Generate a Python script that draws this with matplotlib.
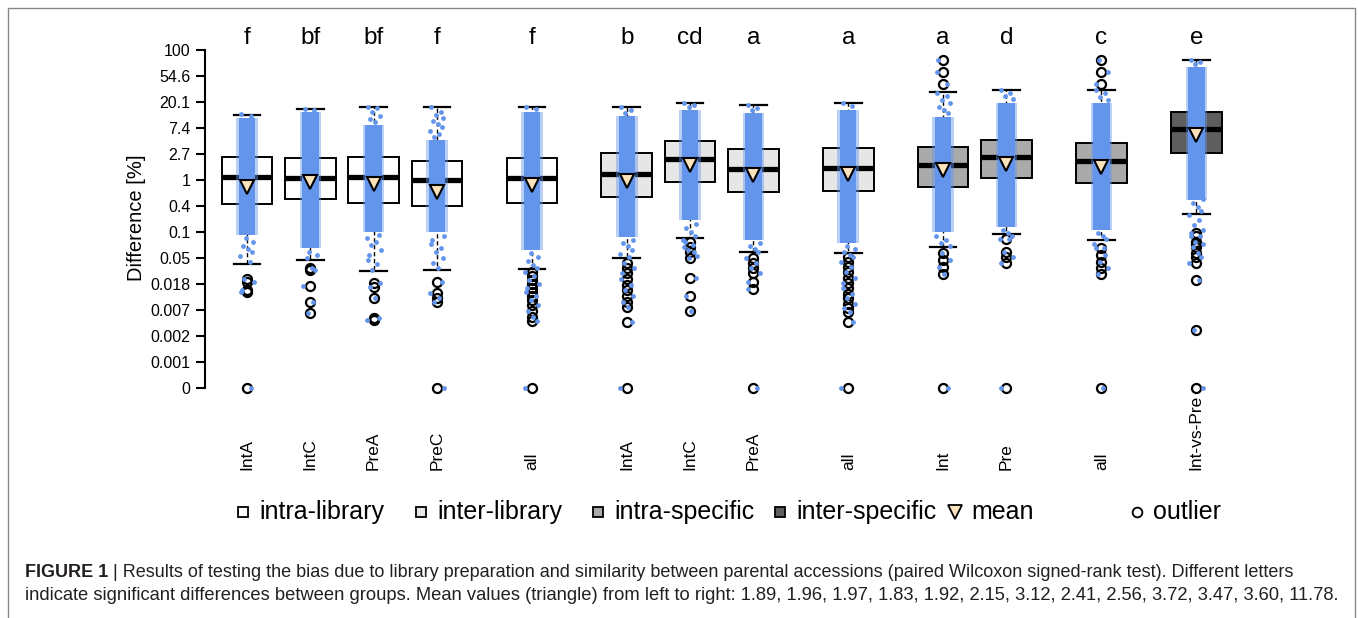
import numpy as np
import matplotlib.pyplot as plt
from matplotlib.lines import Line2D
from matplotlib import transforms

plt.rcParams['font.family'] = ['Liberation Sans', 'DejaVu Sans']

# ---------- DATA (percent difference) ----------
labels = ['IntA', 'IntC', 'PreA', 'PreC', 'all', 'IntA', 'IntC', 'PreA', 'all',
          'Int', 'Pre', 'all', 'Int-vs-Pre']
letters = ['f', 'bf', 'bf', 'f', 'f', 'b', 'cd', 'a', 'a', 'a', 'd', 'c', 'e']
kinds = ['intra-library'] * 5 + ['inter-library'] * 4 + ['intra-specific'] * 3 + ['inter-specific']

medians = [1.12, 1.07, 1.11, 1.0, 1.07, 1.245, 2.22, 1.53, 1.60, 1.78, 2.39, 2.08, 7.03]
q1 = [0.397, 0.476, 0.408, 0.372, 0.418, 0.526, 0.915, 0.638, 0.663, 0.755, 1.07, 0.901, 2.79]
q3 = [2.42, 2.30, 2.45, 2.08, 2.36, 2.86, 4.48, 3.26, 3.46, 3.60, 4.66, 4.20, 13.8]
whis_lo = [0.0395, 0.046, 0.030, 0.031, 0.0326, 0.0503, 0.109, 0.062, 0.0597, 0.077, 0.124, 0.0995, 0.267]
whis_hi = [12.2, 15.3, 16.4, 16.8, 16.8, 16.8, 19.1, 17.9, 19.1, 29.2, 31.9, 31.9, 100]
mean_marks = [0.764, 0.937, 0.857, 0.638, 0.825, 0.962, 1.78, 1.21, 1.26, 1.47, 1.83, 1.67, 5.64]
caption_means = [1.89, 1.96, 1.97, 1.83, 1.92, 2.15, 3.12, 2.41, 2.56, 3.72, 3.47, 3.60, 11.78]

outliers = [
    [0.022, 0.020, 0.0145, 0.0135, 0],
    [0.034, 0.031, 0.0172, 0.0092, 0.0061],
    [0.0188, 0.0163, 0.0106, 0.0049, 0.0045],
    [0.020, 0.0128, 0.0108, 0.0093, 0],
    [0.029, 0.025, 0.0214, 0.0183, 0.0157, 0.0134, 0.0115, 0.0099, 0.0082, 0.0065, 0.0051, 0.0044, 0],
    [0.0407, 0.034, 0.0276, 0.0222, 0.0176, 0.0145, 0.0115, 0.0093, 0.0077, 0.0042, 0],
    [0.093, 0.077, 0.0634, 0.049, 0.0233, 0.0115, 0.0065],
    [0.049, 0.0407, 0.0335, 0.0276, 0.020, 0.015, 0],
    [0.0518, 0.0427, 0.0352, 0.029, 0.0231, 0.019, 0.0157, 0.0125, 0.0107, 0.0085, 0.0073, 0.0062, 0.0042, 0],
    [100, 64.4, 40.2, 0.0597, 0.046, 0.0356, 0.0269, 0],
    [0.102, 0.0634, 0.051, 0.0407, 0],
    [100, 64.4, 40.2, 0.072, 0.0559, 0.0432, 0.0335, 0.0269, 0],
    [0.129, 0.117, 0.093, 0.084, 0.077, 0.0597, 0.051, 0.0407, 0.0214, 0.0031, 0],
]

# dense part of the point cloud (upper, lower) and scattered points outside it
cloud_hi = [10.8, 13.7, 8.3, 4.66, 13.7, 11.7, 14.8, 13.2, 14.8, 11.3, 19.3, 19.3, 77]
cloud_lo = [0.12, 0.073, 0.135, 0.135, 0.068, 0.111, 0.215, 0.099, 0.089, 0.135, 0.164, 0.146, 0.46]
sparse_pts = [
    [12.7, 11.7, 0.107, 0.092, 0.079, 0.070, 0.063, 0.054, 0.043],
    [15.3, 14.8, 0.063, 0.056, 0.050],
    [16.6, 15.9, 13.7, 11.7, 10.4, 9.3, 0.12, 0.107, 0.092, 0.082, 0.068, 0.056, 0.046, 0.040, 0.031],
    [16.6, 13.7, 12.2, 10.8, 9.7, 8.6, 7.7, 6.6, 5.9, 5.2, 0.116, 0.099, 0.085, 0.073, 0.063, 0.050, 0.041, 0.034],
    [16.6, 15.3, 0.060, 0.052, 0.044, 0.038, 0.034],
    [16.6, 14.8, 13.2, 0.099, 0.089, 0.079, 0.068, 0.058, 0.052],
    [19.3, 17.9, 16.6, 0.184, 0.158, 0.135, 0.116, 0.099, 0.082, 0.068, 0.054],
    [17.9, 15.9, 14.8, 0.089, 0.079, 0.070, 0.063],
    [19.3, 17.2, 0.079, 0.070, 0.063, 0.056],
    [28.5, 25.3, 21.7, 19.3, 16.6, 14.8, 13.2, 0.116, 0.099, 0.089, 0.079],
    [31.9, 28.5, 25.3, 22.5, 0.146, 0.130, 0.116, 0.103],
    [31.9, 28.5, 24.3, 21.7, 0.130, 0.116, 0.103, 0.085, 0.073],
    [100, 93.5, 86.7, 0.48, 0.41, 0.354, 0.303, 0.26, 0.215, 0.177, 0.146, 0.116],
]

tick_labels = ['0', '0.001', '0.002', '0.007', '0.018', '0.05', '0.1', '0.4',
               '1', '2.7', '7.4', '20.1', '54.6', '100']

# ---------- LAYOUT ----------
positions = [1, 2, 3, 4, 5.5, 7, 8, 9, 10.5, 12, 13, 14.5, 16]
box_fill = {'intra-library': 'white', 'inter-library': '#e6e6e6',
            'intra-specific': '#aaaaaa', 'inter-specific': '#5e5e5e'}
BLUE = '#6495ED'
ZERO_POS = -8
jit = [-0.09, 0.06, -0.02, 0.10, -0.06, 0.02, 0.08, -0.11, 0.04, -0.04, 0.11, -0.08]


def to_t(v):
    v = np.asarray(v, dtype=float)
    return np.where(v > 0, np.log(np.where(v > 0, v, 1.0)), ZERO_POS)


W, H = 1358, 618
fig = plt.figure(figsize=(W / 100, H / 100), dpi=100)
ax = fig.add_axes([205 / W, 1 - 401 / H, 1035 / W, (401 - 16.2) / H])

stats = []
for i in range(len(labels)):
    stats.append(dict(med=float(to_t(medians[i])), q1=float(to_t(q1[i])), q3=float(to_t(q3[i])),
                      whislo=float(to_t(whis_lo[i])), whishi=float(to_t(whis_hi[i])),
                      fliers=to_t(outliers[i]), label=labels[i]))

bp = ax.bxp(stats, positions=positions, widths=0.8, capwidths=0.42, patch_artist=True,
            showfliers=True,
            boxprops=dict(edgecolor='black', linewidth=1.4),
            medianprops=dict(color='black', linewidth=3.8, solid_capstyle='butt'),
            whiskerprops=dict(color='black', linewidth=1.0, linestyle=(0, (3, 2))),
            capprops=dict(color='black', linewidth=1.6),
            flierprops=dict(marker='o', markerfacecolor='none', markeredgecolor='black',
                            markersize=6.5, markeredgewidth=1.6))
for patch, k in zip(bp['boxes'], kinds):
    patch.set_facecolor(box_fill[k])

# point cloud: dense core (soft edge + solid centre), then scattered points
lo_t = to_t(cloud_lo)
hi_t = to_t(cloud_hi)
ax.bar(positions, hi_t - lo_t, bottom=lo_t, width=0.34, color=BLUE, alpha=0.45,
       linewidth=0, zorder=3)
ax.bar(positions, hi_t - lo_t, bottom=lo_t, width=0.26, color=BLUE, linewidth=0, zorder=3)
for i, x in enumerate(positions):
    pts = list(sparse_pts[i]) + list(outliers[i])
    xs = [x + jit[j % len(jit)] for j in range(len(pts))]
    ax.scatter(xs, to_t(pts), s=12, color=BLUE, linewidths=0, zorder=3)

# means
ax.plot(positions, to_t(mean_marks), linestyle='none', marker='v', markersize=10.5,
        markerfacecolor='#fde3bb', markeredgecolor='black', markeredgewidth=1.5, zorder=5)

# group letters
for x, s in zip(positions, letters):
    ax.text(x, 5.22, s, ha='center', va='baseline', fontsize=17.5)

ax.set_xlim(0.336, 16.69)
ax.set_ylim(-8.5, 6.3)
ax.set_yticks(range(-8, 6))
ax.set_yticklabels(tick_labels)
ax.tick_params(axis='y', length=6.5, width=1.5, labelsize=11.5, pad=4)
ax.set_xticks([])
for side in ['top', 'right', 'bottom']:
    ax.spines[side].set_visible(False)
ax.spines['left'].set_linewidth(1.5)
ax.spines['left'].set_bounds(-8, 5)
fig.text(137 / W, 1 - 218 / H, 'Difference [%]', rotation=90, ha='center', va='center', fontsize=14.5)

# rotated group labels under the plot
trans = transforms.blended_transform_factory(ax.transData, fig.transFigure)
for x, s in zip(positions, labels):
    ax.text(x, 1 - 470 / H, s, transform=trans, rotation=90, ha='center', va='bottom',
            fontsize=12.5, clip_on=False)

# legend row
leg_y = 1 - 512 / H
items = [(243, 's', 'white', 'intra-library'), (421, 's', '#e6e6e6', 'inter-library'),
         (598, 's', '#aaaaaa', 'intra-specific'), (780, 's', '#5e5e5e', 'inter-specific'),
         (955, 'v', '#fde3bb', 'mean'), (1137, 'o', 'none', 'outlier')]
for px, mk, fc, txt in items:
    fig.add_artist(Line2D([px / W], [leg_y], transform=fig.transFigure, marker=mk,
                          markersize=7 if mk != 'v' else 10, markerfacecolor=fc,
                          markeredgecolor='black', markeredgewidth=1.3, linestyle='none'))
    fig.text((px + 16) / W, 1 - 519 / H, txt, ha='left', va='baseline', fontsize=18)

# caption
cap1 = fig.text(25 / W, 1 - 577 / H, 'FIGURE 1', fontsize=13, weight='bold',
                color='#231f20', va='baseline')
ax.annotate(' | Results of testing the bias due to library preparation and similarity between '
            'parental accessions (paired Wilcoxon signed-rank test). Different letters',
            xy=(1, 0), xycoords=cap1, va='bottom', ha='left', fontsize=13, color='#231f20',
            annotation_clip=False)
fig.text(25 / W, 1 - 600 / H,
         'indicate significant differences between groups. Mean values (triangle) from left to right: '
         + ', '.join(f'{m:.2f}' for m in caption_means) + '.',
         fontsize=13.2, color='#231f20', va='baseline')

# outer frame
fc = '#888888'
fig.add_artist(Line2D([8 / W, 8 / W, 1355 / W, 1355 / W], [0, 1 - 8 / H, 1 - 8 / H, 0],
                      transform=fig.transFigure, color=fc, linewidth=1.0))

fig.savefig('out.png', dpi=100)
